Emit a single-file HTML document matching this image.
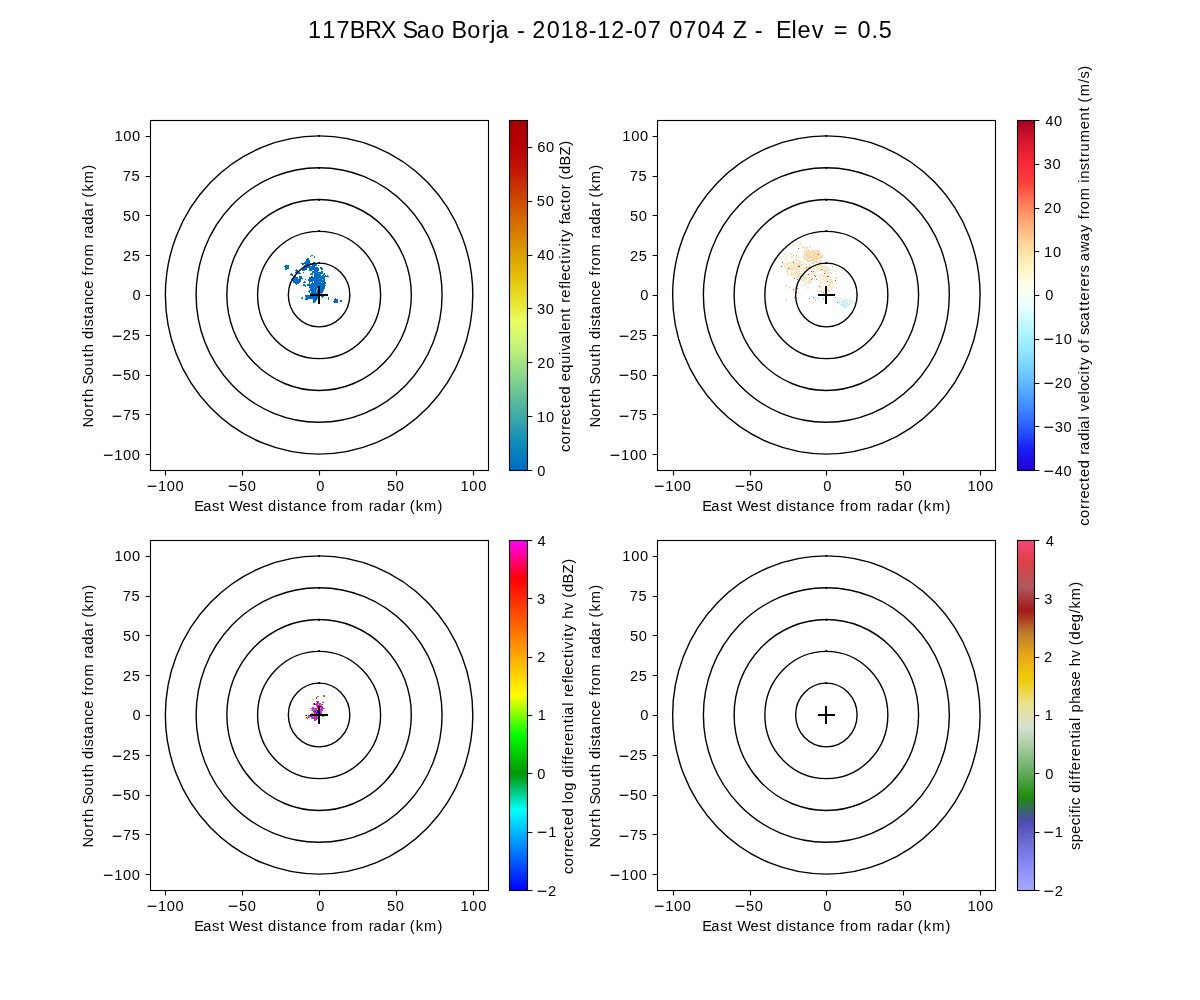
<!DOCTYPE html>
<html lang="en"><head><meta charset="utf-8"><title>117BRX Sao Borja - 2018-12-07 0704 Z - Elev = 0.5</title>
<style>html,body{margin:0;padding:0;background:#fff;width:1200px;height:1000px;overflow:hidden}svg{display:block}text{font-family:"Liberation Sans",sans-serif;fill:#000;white-space:pre}.sp{fill:none;stroke:#000;stroke-width:1.111;stroke-linecap:square}.tk{stroke:#000;stroke-width:1.111;fill:none}.rg{fill:none;stroke:#000;stroke-width:1.389}.ch{stroke:#000;stroke-width:2.083;stroke-linecap:square;fill:none}</style></head><body>
<svg width="1200" height="1000" viewBox="0 0 1200 1000">
<rect x="0" y="0" width="1200" height="1000" fill="#fff"/>
<defs>
<linearGradient id="g0" x1="0" y1="1" x2="0" y2="0">
<stop offset="0.0000" stop-color="#006cc6"/>
<stop offset="0.0159" stop-color="#0272c3"/>
<stop offset="0.0317" stop-color="#0479c1"/>
<stop offset="0.0476" stop-color="#077fbe"/>
<stop offset="0.0635" stop-color="#0986bb"/>
<stop offset="0.0794" stop-color="#0f8cb8"/>
<stop offset="0.0952" stop-color="#1993b5"/>
<stop offset="0.1111" stop-color="#2299b1"/>
<stop offset="0.1270" stop-color="#2ca0ae"/>
<stop offset="0.1429" stop-color="#36a6aa"/>
<stop offset="0.1587" stop-color="#40aca6"/>
<stop offset="0.1746" stop-color="#4ab2a2"/>
<stop offset="0.1905" stop-color="#55b89d"/>
<stop offset="0.2063" stop-color="#5fbe99"/>
<stop offset="0.2222" stop-color="#69c495"/>
<stop offset="0.2381" stop-color="#74ca91"/>
<stop offset="0.2540" stop-color="#7fd08e"/>
<stop offset="0.2698" stop-color="#8ad68a"/>
<stop offset="0.2857" stop-color="#95dc86"/>
<stop offset="0.3016" stop-color="#a0e283"/>
<stop offset="0.3175" stop-color="#abe77f"/>
<stop offset="0.3333" stop-color="#b6ed7c"/>
<stop offset="0.3492" stop-color="#c1f279"/>
<stop offset="0.3651" stop-color="#cbf674"/>
<stop offset="0.3810" stop-color="#d3f86e"/>
<stop offset="0.3968" stop-color="#dbf969"/>
<stop offset="0.4127" stop-color="#e3fb63"/>
<stop offset="0.4286" stop-color="#ebfd5d"/>
<stop offset="0.4444" stop-color="#eaf550"/>
<stop offset="0.4603" stop-color="#e9ee42"/>
<stop offset="0.4762" stop-color="#e8e635"/>
<stop offset="0.4921" stop-color="#e7df28"/>
<stop offset="0.5079" stop-color="#e5d71d"/>
<stop offset="0.5238" stop-color="#e4cf16"/>
<stop offset="0.5397" stop-color="#e3c60f"/>
<stop offset="0.5556" stop-color="#e2be07"/>
<stop offset="0.5714" stop-color="#e1b600"/>
<stop offset="0.5873" stop-color="#e0ae00"/>
<stop offset="0.6032" stop-color="#dea500"/>
<stop offset="0.6190" stop-color="#dd9d00"/>
<stop offset="0.6349" stop-color="#dc9400"/>
<stop offset="0.6508" stop-color="#da8c00"/>
<stop offset="0.6667" stop-color="#d98300"/>
<stop offset="0.6825" stop-color="#d87a00"/>
<stop offset="0.6984" stop-color="#d67200"/>
<stop offset="0.7143" stop-color="#d56900"/>
<stop offset="0.7302" stop-color="#d36000"/>
<stop offset="0.7460" stop-color="#d15700"/>
<stop offset="0.7619" stop-color="#cf4e00"/>
<stop offset="0.7778" stop-color="#cd4500"/>
<stop offset="0.7937" stop-color="#cb3c00"/>
<stop offset="0.8095" stop-color="#c93300"/>
<stop offset="0.8254" stop-color="#c62a00"/>
<stop offset="0.8413" stop-color="#c42000"/>
<stop offset="0.8571" stop-color="#c21700"/>
<stop offset="0.8730" stop-color="#bf1200"/>
<stop offset="0.8889" stop-color="#bd0d00"/>
<stop offset="0.9048" stop-color="#ba0800"/>
<stop offset="0.9206" stop-color="#b70300"/>
<stop offset="0.9365" stop-color="#b40000"/>
<stop offset="0.9524" stop-color="#b10000"/>
<stop offset="0.9683" stop-color="#ae0000"/>
<stop offset="0.9841" stop-color="#aa0000"/>
<stop offset="1.0000" stop-color="#a70000"/>
</linearGradient>
<linearGradient id="g1" x1="0" y1="1" x2="0" y2="0">
<stop offset="0.0000" stop-color="#2400d8"/>
<stop offset="0.0588" stop-color="#181cf7"/>
<stop offset="0.1176" stop-color="#2857ff"/>
<stop offset="0.1765" stop-color="#3d87ff"/>
<stop offset="0.2353" stop-color="#56b0ff"/>
<stop offset="0.2941" stop-color="#75d3ff"/>
<stop offset="0.3529" stop-color="#99eaff"/>
<stop offset="0.4118" stop-color="#bcf9ff"/>
<stop offset="0.4706" stop-color="#eaffff"/>
<stop offset="0.5294" stop-color="#ffffea"/>
<stop offset="0.5882" stop-color="#fff1bc"/>
<stop offset="0.6471" stop-color="#ffd699"/>
<stop offset="0.7059" stop-color="#ffac75"/>
<stop offset="0.7647" stop-color="#ff7856"/>
<stop offset="0.8235" stop-color="#ff3d3d"/>
<stop offset="0.8824" stop-color="#f72735"/>
<stop offset="0.9412" stop-color="#d8152f"/>
<stop offset="1.0000" stop-color="#a50021"/>
</linearGradient>
<linearGradient id="g2" x1="0" y1="1" x2="0" y2="0">
<stop offset="0.0000" stop-color="#0000ff"/>
<stop offset="0.2300" stop-color="#00ffff"/>
<stop offset="0.3333" stop-color="#009600"/>
<stop offset="0.4444" stop-color="#00ff00"/>
<stop offset="0.5556" stop-color="#ffff00"/>
<stop offset="0.8889" stop-color="#ff0000"/>
<stop offset="1.0000" stop-color="#ff00ff"/>
</linearGradient>
<linearGradient id="g3" x1="0" y1="1" x2="0" y2="0">
<stop offset="0.0000" stop-color="#a8a8ff"/>
<stop offset="0.0667" stop-color="#8c8cfa"/>
<stop offset="0.1333" stop-color="#6e6ed7"/>
<stop offset="0.2000" stop-color="#4b4baf"/>
<stop offset="0.2667" stop-color="#1e8c0a"/>
<stop offset="0.3333" stop-color="#5faa5a"/>
<stop offset="0.4000" stop-color="#9bc896"/>
<stop offset="0.4667" stop-color="#d7e1d2"/>
<stop offset="0.5333" stop-color="#ebe18c"/>
<stop offset="0.6000" stop-color="#eecd0a"/>
<stop offset="0.6667" stop-color="#ebaa14"/>
<stop offset="0.7333" stop-color="#be7d2d"/>
<stop offset="0.8000" stop-color="#a01919"/>
<stop offset="0.8667" stop-color="#af5a5f"/>
<stop offset="0.9333" stop-color="#dc4146"/>
<stop offset="1.0000" stop-color="#fa4678"/>
</linearGradient>
</defs>
<g id="panel0">
<path fill="#006cc8" d="M311 255h2v1h-2zM310 256h1v1h-1zM314 256h1v1h-1zM314 257h1v1h-1zM307 258h2v1h-2zM306 259h3v1h-3zM306 260h4v1h-4zM305 261h5v1h-5zM304 262h6v1h-6zM313 262h2v1h-2zM301 263h10v1h-10zM313 263h2v1h-2zM302 264h2v1h-2zM305 264h12v1h-12zM304 265h6v1h-6zM312 265h5v1h-5zM318 265h1v1h-1zM285 265h4v1h-4zM303 266h12v1h-12zM284 266h5v1h-5zM303.5 267h14.5v1h-14.5zM320 267h2v1h-2zM285 267h4v1h-4zM302 268h5v1h-5zM309 268h10v1h-10zM320 268h3v1h-3zM285 268h4v1h-4zM302 269h5v1h-5zM309 269h10v1h-10zM321 269h2v1h-2zM285 269h2v1h-2zM296 269h1v1h-1zM302 270h3v1h-3zM309 270h3v1h-3zM314 270h5v1h-5zM295 270h3v1h-3zM312 271h6v1h-6zM321 271h2v1h-2zM296 271h2v1h-2zM303 272h1v1h-1zM312 272h11v1h-11zM295 272h2v1h-2zM298 272h2v1h-2zM311 273h2v1h-2zM314 273h9v1h-9zM324 273h1v1h-1zM297 273h4v1h-4zM291 273h1v1h-1zM310 274h3v1h-3zM314 274h7v1h-7zM323 274h2v1h-2zM290 274h3v1h-3zM314 275h7v1h-7zM322 275h4v1h-4zM327 275h1v1h-1zM291 275h2v1h-2zM311 276h2v1h-2zM314 276h15v1h-15zM294 276h2v1h-2zM299 276h3v1h-3zM309 277h16v1h-16zM294 277h4v1h-4zM299 277h3v1h-3zM309 278h16v1h-16zM293 278h5v1h-5zM299 278h4v1h-4zM308 279h17v1h-17zM291 279h10v1h-10zM305 279h1v1h-1zM308 280h17v1h-17zM292 280h9v1h-9zM309 281h4v1h-4zM314 281h11v1h-11zM293 281h8v1h-8zM304 281h1v1h-1zM309 282h1v1h-1zM312 282h1v1h-1zM314 282h7v1h-7zM322 282h4v1h-4zM293 282h7v1h-7zM303 282h3v1h-3zM309 283h1v1h-1zM311 283h15v1h-15zM295 283h4v1h-4zM307 284h18v1h-18zM296 284h1v1h-1zM303 284h2v1h-2zM307 285h19v1h-19zM303 285h3v1h-3zM309 286h16v1h-16zM305 286h1v1h-1zM309 287h16v1h-16zM310 288h15v1h-15zM310 289h14v1h-14zM309 290h15v1h-15zM308 291h2v1h-2zM311 291h12v1h-12zM309 292h1v1h-1zM311 292h12v1h-12zM310 293h12v1h-12zM310 294h12v1h-12zM305 295h19v1h-19zM305 296h13v1h-13zM321 296h3v1h-3zM306 297h12v1h-12zM322 297h1v1h-1zM328 297h1v1h-1zM302 297h1v1h-1zM305 298h13v1h-13zM328 298h1v1h-1zM301 298h2v1h-2zM335 298h1v1h-1zM305 299h3v1h-3zM313 299h4v1h-4zM328 299h1v1h-1zM334 299h4v1h-4zM313 300h3.5v1h-3.5zM334 300h4v1h-4zM340 300h2v1h-2zM313 301h3v1h-3zM333 301h5v1h-5zM340 301h2v1h-2zM313 302h2v1h-2zM334 302h4v1h-4z"/><path fill="#0082b8" d="M311 255h2v1h-2zM310 256h1v1h-1zM314 256h1v2h-1z"/><path fill="#0078c0" d="M285 265h4v1h-4zM284 266h5v1h-5zM285 267h4v2h-4zM285 269h2v1h-2z"/><rect x="319" y="278" width="1" height="1" fill="#1a9ab0"/><rect x="322" y="279" width="1" height="1" fill="#6cc48a"/><rect x="323" y="276" width="1" height="1" fill="#1a9ab0"/><rect x="319" y="281" width="1" height="1" fill="#2aa0a8"/><rect x="318" y="284" width="1" height="1" fill="#2aa0a8"/><rect x="314" y="287" width="1" height="1" fill="#2aa0a8"/><rect x="317" y="288" width="1" height="1" fill="#8fd07a"/><rect x="317" y="289" width="1" height="1" fill="#6cc48a"/><rect x="316" y="290" width="1" height="1" fill="#a8dc6c"/><rect x="316" y="291" width="1" height="1" fill="#6cc48a"/><rect x="320" y="293" width="1" height="1" fill="#2aa49c"/><rect x="321" y="293" width="1" height="1" fill="#2aa49c"/><rect x="316" y="272" width="1" height="1" fill="#3aa8a0"/><rect x="318" y="273" width="1" height="1" fill="#3aa8a0"/><rect x="324" y="275" width="1" height="1" fill="#9ad874"/><rect x="310" y="267" width="1" height="1" fill="#2aa0a8"/><rect x="305" y="262" width="1" height="1" fill="#1a96b0"/>
<ellipse class="rg" cx="319.09" cy="295.00" rx="30.74" ry="31.82"/>
<rect x="318.29" y="262" width="1.6" height="2" fill="#000"/>
<ellipse class="rg" cx="319.09" cy="295.00" rx="61.49" ry="63.64"/>
<rect x="318.29" y="230" width="1.6" height="2" fill="#000"/>
<ellipse class="rg" cx="319.09" cy="295.00" rx="92.23" ry="95.45"/>
<rect x="318.29" y="199" width="1.6" height="2" fill="#000"/>
<ellipse class="rg" cx="319.09" cy="295.00" rx="122.97" ry="127.27"/>
<rect x="318.29" y="167" width="1.6" height="2" fill="#000"/>
<ellipse class="rg" cx="319.09" cy="295.00" rx="153.72" ry="159.09"/>
<rect x="318.29" y="135" width="1.6" height="2" fill="#000"/>
<path fill="#000" d="M309.96 294H328.04v2H309.96zM318 285.96h2V304.04h-2z"/>
<path class="tk" d="M165.5 470.50v4.91M242.5 470.50v4.91M319.5 470.50v4.91M396.5 470.50v4.91M473.5 470.50v4.91M150.50 454.5h-4.91M150.50 414.5h-4.91M150.50 375.5h-4.91M150.50 335.5h-4.91M150.50 295.5h-4.91M150.50 255.5h-4.91M150.50 215.5h-4.91M150.50 176.5h-4.91M150.50 136.5h-4.91"/>
<rect class="sp" x="150.5" y="120.5" width="338.0" height="350.0"/>
<rect x="509.5" y="120.0" width="18.0" height="350.5" fill="url(#g0)"/>
<rect class="sp" x="509.5" y="120.5" width="18.0" height="350.0"/>
<path class="tk" d="M527.50 470.5h4.91M527.50 416.5h4.91M527.50 362.5h4.91M527.50 308.5h4.91M527.50 255.5h4.91M527.50 201.5h4.91M527.50 147.5h4.91"/>
</g>
<g id="panel1">
<g style="filter:blur(0.3px)"><path fill="#fdd6a2" d="M806 250h2v1h-2zM811 250h8v1h-8zM804 251h3v1h-3zM808 251h3v1h-3zM812 251h2v1h-2zM815 251h1v1h-1zM817 251h3v1h-3zM804 252h1v1h-1zM806 252h14v1h-14zM804 253h5v1h-5zM810 253h2v1h-2zM813 253h8v1h-8zM804 254h1v1h-1zM806 254h5v1h-5zM813 254h5v1h-5zM820 254h1v1h-1zM804 255h11v1h-11zM816 255h3v1h-3zM822 255h1v1h-1zM803 256h2v1h-2zM807 256h11v1h-11zM819 256h4v1h-4zM803 257h1v1h-1zM805 257h1v1h-1zM807 257h3v1h-3zM811 257h12v1h-12zM804 258h6v1h-6zM812 258h6v1h-6zM819 258h2v1h-2zM822 258h1v1h-1zM804 259h4v1h-4zM810 259h9v1h-9zM806 260h9v1h-9zM816 260h1v1h-1zM820 260h2v1h-2zM808 261h3v1h-3zM813 261h5v1h-5zM819 261h3v1h-3zM811 262h3v1h-3zM816 262h2v1h-2zM819 262h2v1h-2zM813 263h1v1h-1z"/><path fill="#86dcfa" d="M808 250h1v1h-1zM796 255h1v1h-1zM810 257h1v1h-1zM796 260h1v1h-1zM807 261h1v1h-1zM812 263h1v1h-1zM802 264h1v1h-1zM806 264h1v1h-1zM815 266h1v1h-1zM819 270h1v1h-1zM825 270h1v1h-1zM824 271h1v1h-1zM830 272h1v1h-1zM799 273h1v1h-1zM803 276h1v1h-1zM805 277h1v1h-1zM812 278h1v1h-1zM830 279h1v1h-1zM802 280h1v1h-1zM831 281h1v1h-1zM810 282h1v1h-1zM805 284h1v1h-1zM786 285h1v1h-1zM817 291h1v1h-1zM821 291h1v1h-1z"/><path fill="#fee2b6" d="M784 254h3v1h-3zM786 255h1v1h-1zM783 256h1v1h-1zM786 256h1v1h-1zM795 256h1v1h-1zM797 256h2v1h-2zM795 257h1v1h-1zM799 257h1v1h-1zM796 258h2v1h-2zM795 259h1v1h-1zM793 260h1v1h-1zM797 260h3v1h-3zM790 261h1v1h-1zM793 261h1v1h-1zM795 261h1v1h-1zM798 261h4v1h-4zM787 262h4v1h-4zM792 262h1v1h-1zM794 262h1v1h-1zM796 262h1v1h-1zM798 262h5v1h-5zM783 263h2v1h-2zM786 263h2v1h-2zM789 263h4v1h-4zM794 263h4v1h-4zM799 263h2v1h-2zM803 263h2v1h-2zM783 264h2v1h-2zM786 264h3v1h-3zM793 264h2v1h-2zM797 264h5v1h-5zM809 264h1v1h-1zM784 265h1v1h-1zM786 265h2v1h-2zM790 265h6v1h-6zM797 265h5v1h-5zM803 265h2v1h-2zM808 265h3v1h-3zM812 265h1v1h-1zM784 266h2v1h-2zM788 266h2v1h-2zM791 266h1v1h-1zM793 266h2v1h-2zM796 266h2v1h-2zM801 266h1v1h-1zM803 266h1v1h-1zM805 266h3v1h-3zM809 266h4v1h-4zM784 267h6v1h-6zM791 267h7v1h-7zM799 267h3v1h-3zM803 267h1v1h-1zM805 267h1v1h-1zM808 267h1v1h-1zM785 268h1v1h-1zM789 268h5v1h-5zM795 268h3v1h-3zM801 268h7v1h-7zM787 269h2v1h-2zM790 269h16v1h-16zM786 270h2v1h-2zM792 270h2v1h-2zM795 270h1v1h-1zM798 270h1v1h-1zM804 270h1v1h-1zM786 271h2v1h-2zM791 271h1v1h-1zM795 271h5v1h-5zM801 271h1v1h-1zM787 272h2v1h-2zM791 272h2v1h-2zM794 272h1v1h-1zM796 272h3v1h-3zM800 272h1v1h-1zM786 273h3v1h-3zM791 273h1v1h-1zM793 273h3v1h-3zM797 273h2v1h-2zM800 273h2v1h-2zM789 274h5v1h-5zM795 274h1v1h-1zM798 274h2v1h-2zM787 275h2v1h-2zM791 275h1v1h-1zM793 275h4v1h-4zM798 275h1v1h-1zM800 275h1v1h-1zM795 276h1v1h-1zM797 276h3v1h-3zM795 277h4v1h-4z"/><path fill="#ff2a1e" d="M798 248h1v1h-1zM818 254h1v1h-1zM782 262h1v1h-1zM793 262h1v1h-1zM781 266h1v1h-1zM798 266h2v1h-2zM806 267h1v1h-1zM809 267h1v1h-1zM788 268h1v1h-1zM821 269h1v1h-1zM811 271h1v1h-1zM813 271h1v1h-1zM824 273h1v1h-1zM808 274h1v1h-1zM814 275h1v1h-1zM815 276h1v1h-1zM827 276h2v1h-2zM794 278h1v1h-1zM797 279h1v1h-1zM811 279h1v1h-1zM835 280h1v1h-1zM827 281h1v1h-1zM819 286h1v1h-1zM797 288h1v1h-1zM793 289h1v1h-1z"/><path fill="#fee8c2" d="M811 267h1v1h-1zM813 267h1v1h-1zM809 268h3v1h-3zM814 268h1v1h-1zM808 269h2v1h-2zM814 269h1v1h-1zM811 270h1v1h-1zM815 270h3v1h-3zM809 271h1v1h-1zM815 271h3v1h-3zM805 272h2v1h-2zM810 272h1v1h-1zM813 272h3v1h-3zM805 273h1v1h-1zM808 273h1v1h-1zM814 273h1v1h-1zM805 274h3v1h-3zM809 274h1v1h-1zM811 274h1v1h-1zM813 274h1v1h-1zM815 274h3v1h-3zM801 275h5v1h-5zM807 275h1v1h-1zM809 275h3v1h-3zM815 275h1v1h-1zM819 275h1v1h-1zM800 276h3v1h-3zM809 276h1v1h-1zM811 276h1v1h-1zM813 276h2v1h-2zM817 276h1v1h-1zM819 276h1v1h-1zM800 277h1v1h-1zM803 277h2v1h-2zM806 277h4v1h-4zM812 277h1v1h-1zM800 278h6v1h-6zM807 278h2v1h-2zM811 278h1v1h-1zM814 278h1v1h-1zM816 278h3v1h-3zM800 279h7v1h-7zM809 279h2v1h-2zM812 279h1v1h-1zM800 280h2v1h-2zM804 280h2v1h-2zM808 280h5v1h-5zM818 280h1v1h-1zM804 281h2v1h-2zM808 281h4v1h-4zM806 282h4v1h-4zM807 283h3v1h-3zM808 284h1v1h-1z"/><path fill="#fedfb2" d="M818 265h5v1h-5zM817 266h9v1h-9zM816 267h1v1h-1zM818 267h1v1h-1zM820 267h3v1h-3zM825 267h3v1h-3zM818 268h2v1h-2zM822 268h4v1h-4zM827 268h1v1h-1zM817 269h2v1h-2zM820 269h1v1h-1zM822 269h2v1h-2zM825 269h1v1h-1zM827 269h3v1h-3zM822 270h3v1h-3zM826 270h4v1h-4zM826 271h2v1h-2zM823 272h1v1h-1zM825 272h4v1h-4zM827 273h1v1h-1z"/><path fill="#fee9c6" d="M820 274h2v1h-2zM823 274h1v1h-1zM825 274h2v1h-2zM821 275h4v1h-4zM826 275h2v1h-2zM829 275h1v1h-1zM820 276h1v1h-1zM823 276h3v1h-3zM830 276h1v1h-1zM820 277h1v1h-1zM822 277h2v1h-2zM825 277h3v1h-3zM830 277h1v1h-1zM832 277h1v1h-1zM820 278h2v1h-2zM824 278h4v1h-4zM829 278h1v1h-1zM821 279h4v1h-4zM826 279h2v1h-2zM829 279h1v1h-1zM831 279h2v1h-2zM820 280h1v1h-1zM824 280h4v1h-4zM829 280h4v1h-4zM825 281h1v1h-1zM828 281h2v1h-2zM832 281h1v1h-1zM822 282h2v1h-2zM825 282h3v1h-3zM829 282h2v1h-2zM832 282h1v1h-1zM824 283h2v1h-2zM829 283h4v1h-4zM824 284h1v1h-1zM826 284h1v1h-1zM828 284h1v1h-1zM832 284h2v1h-2zM825 285h8v1h-8zM826 286h3v1h-3zM830 286h3v1h-3zM828 287h5v1h-5zM827 288h3v1h-3zM831 288h2v1h-2zM828 289h1v1h-1zM830 289h2v1h-2zM829 290h2v1h-2z"/><path fill="#ff8a50" d="M832 266h1v1h-1zM829 284h1v1h-1zM828 290h1v1h-1zM823 292h1v1h-1zM835 297h1v1h-1zM823 298h1v1h-1zM815 300h1v1h-1z"/><path fill="#fff3dc" d="M819 282h2v1h-2zM820 283h2v1h-2zM819 284h1v1h-1zM821 284h1v1h-1zM823 284h1v1h-1zM818 285h2v1h-2zM823 285h1v1h-1zM818 286h1v1h-1zM820 286h2v1h-2zM824 286h2v1h-2zM820 287h2v1h-2zM824 287h2v1h-2zM818 288h1v1h-1zM822 288h1v1h-1zM824 288h2v1h-2zM818 289h3v1h-3zM822 289h3v1h-3zM827 289h1v1h-1zM819 290h1v1h-1zM821 290h1v1h-1zM825 290h2v1h-2zM818 291h3v1h-3zM822 291h2v1h-2zM826 291h3v1h-3zM819 292h4v1h-4zM825 292h1v1h-1z"/><path fill="#c2f0fa" d="M837 297h1v1h-1zM839 298h3v1h-3zM837 299h1v1h-1zM839 299h1v1h-1zM844 299h1v1h-1zM846 299h1v1h-1zM839 300h1v1h-1zM842 300h2v1h-2zM845 300h1v1h-1zM847 300h1v1h-1zM849 300h2v1h-2zM838 301h7v1h-7zM846 301h1v1h-1zM848 301h1v1h-1zM850 301h3v1h-3zM839 302h1v1h-1zM841 302h2v1h-2zM844 302h1v1h-1zM846 302h2v1h-2zM849 302h1v1h-1zM851 302h1v1h-1zM839 303h1v1h-1zM841 303h2v1h-2zM844 303h1v1h-1zM846 303h2v1h-2zM849 303h3v1h-3zM840 304h6v1h-6zM847 304h3v1h-3zM841 305h8v1h-8zM842 306h4v1h-4zM847 306h1v1h-1zM844 307h3v1h-3z"/><path fill="#e2f7fb" d="M817 295h1v1h-1zM811 296h2v1h-2zM815 296h1v1h-1zM817 296h1v1h-1zM811 297h1v1h-1zM815 297h3v1h-3zM819 297h1v1h-1zM822 297h1v1h-1zM812 298h1v1h-1zM817 298h4v1h-4zM813 299h1v1h-1zM818 299h1v1h-1zM820 299h4v1h-4zM818 300h2v1h-2zM819 301h1v1h-1zM821 301h1v1h-1zM821 302h1v1h-1z"/><path fill="#3c86f5" d="M816 279h1v1h-1zM794 297h1v1h-1zM813 297h1v1h-1zM809 298h1v1h-1zM837 302h1v1h-1z"/><path fill="#fee0b2" d="M800 243h2v1h-2zM800 244h2v1h-2zM793 245h2v1h-2zM802 246h2v1h-2zM809 246h2v1h-2zM802 247h6v1h-6zM809 247h2v1h-2zM804 248h4v1h-4zM790 253h2v1h-2zM790 254h2v1h-2zM793 255h2v1h-2zM819 255h3v1h-3zM791 256h2v1h-2zM791 257h2v1h-2zM779 258h2v1h-2zM785 259h2v1h-2zM835 270h1v1h-1zM835 271h1v1h-1zM836 273h1v1h-1zM836 274h1v1h-1zM835 277h3v1h-3zM835 278h3v1h-3zM785 286h2v1h-2zM789 286h2v1h-2zM789 287h2v1h-2zM807 287h2v1h-2zM807 288h2v1h-2zM793 290h1v1h-1zM786 291h2v1h-2zM793 291h1v1h-1zM790 296h1v1h-1zM785 299h2v1h-2zM785 300h2v1h-2z"/><path fill="#1420c0" d="M796 292h1v1h-1z"/></g>
<ellipse class="rg" cx="826.36" cy="295.00" rx="30.74" ry="31.82"/>
<rect x="825.56" y="262" width="1.6" height="2" fill="#000"/>
<ellipse class="rg" cx="826.36" cy="295.00" rx="61.49" ry="63.64"/>
<rect x="825.56" y="230" width="1.6" height="2" fill="#000"/>
<ellipse class="rg" cx="826.36" cy="295.00" rx="92.23" ry="95.45"/>
<rect x="825.56" y="199" width="1.6" height="2" fill="#000"/>
<ellipse class="rg" cx="826.36" cy="295.00" rx="122.97" ry="127.27"/>
<rect x="825.56" y="167" width="1.6" height="2" fill="#000"/>
<ellipse class="rg" cx="826.36" cy="295.00" rx="153.72" ry="159.09"/>
<rect x="825.56" y="135" width="1.6" height="2" fill="#000"/>
<path fill="#000" d="M817.96 294H835.04v2H817.96zM825 285.96h2V304.04h-2z"/>
<path class="tk" d="M673.5 470.50v4.91M750.5 470.50v4.91M826.5 470.50v4.91M903.5 470.50v4.91M980.5 470.50v4.91M657.50 454.5h-4.91M657.50 414.5h-4.91M657.50 375.5h-4.91M657.50 335.5h-4.91M657.50 295.5h-4.91M657.50 255.5h-4.91M657.50 215.5h-4.91M657.50 176.5h-4.91M657.50 136.5h-4.91"/>
<rect class="sp" x="657.5" y="120.5" width="338.0" height="350.0"/>
<rect x="1017.5" y="120.0" width="17.0" height="350.5" fill="url(#g1)"/>
<rect class="sp" x="1017.5" y="120.5" width="17.0" height="350.0"/>
<path class="tk" d="M1034.50 470.5h4.91M1034.50 426.5h4.91M1034.50 383.5h4.91M1034.50 339.5h4.91M1034.50 295.5h4.91M1034.50 251.5h4.91M1034.50 208.5h4.91M1034.50 164.5h4.91M1034.50 120.5h4.91"/>
</g>
<g id="panel2">
<path fill="#ff00ff" d="M323 695h1v1h-1zM317 701h1v1h-1zM318 701h1v1h-1zM317 702h1v1h-1zM322 702h1v1h-1zM323 702h1v1h-1zM316 703h1v1h-1zM317 703h1v1h-1zM319 703h1v1h-1zM320 703h1v1h-1zM315 704h1v1h-1zM316 704h1v1h-1zM317 704h1v1h-1zM319 704h1v1h-1zM316 705h1v1h-1zM317 705h1v1h-1zM318 705h1v1h-1zM319 705h1v1h-1zM320 705h1v1h-1zM321 706h1v1h-1zM322 706h1v1h-1zM312 707h1v1h-1zM313 707h1v1h-1zM320 707h1v1h-1zM321 707h1v1h-1zM322 707h1v1h-1zM311 708h1v1h-1zM312 708h1v1h-1zM313 708h1v1h-1zM314 708h1v1h-1zM315 708h1v1h-1zM316 708h1v1h-1zM321 708h1v1h-1zM322 708h1v1h-1zM312 709h1v1h-1zM315 709h1v1h-1zM320 709h1v1h-1zM321 709h1v1h-1zM322 709h1v1h-1zM315 710h1v1h-1zM321 710h1v1h-1zM322 710h1v1h-1zM314 711h1v1h-1zM316 711h1v1h-1zM320 711h1v1h-1zM321 711h1v1h-1zM315 712h1v1h-1zM320 712h1v1h-1zM314 713h1v1h-1zM315 713h1v1h-1zM317 713h1v1h-1zM320 713h1v1h-1zM321 713h1v1h-1zM314 714h1v1h-1zM315 714h1v1h-1zM316 714h1v1h-1zM317 714h1v1h-1zM309 715h1v1h-1zM310 715h1v1h-1zM308 716h1v1h-1zM309 716h1v1h-1zM310 716h1v1h-1zM311 716h1v1h-1zM313 716h1v1h-1zM315 716h1v1h-1zM308 717h1v1h-1zM312 717h1v1h-1zM313 717h1v1h-1zM314 717h1v1h-1zM315 717h1v1h-1zM316 717h1v1h-1zM317 717h1v1h-1zM314 718h1v1h-1zM315 718h1v1h-1zM314 719h1v1h-1zM315 719h1v1h-1zM314 720h1v1h-1zM315 720h1v1h-1z"/><path fill="#ff7a00" d="M324 695h1v1h-1zM313 704h1v1h-1zM320 704h1v1h-1zM321 704h1v1h-1zM317 708h1v1h-1zM311 710h1v1h-1zM311 713h1v1h-1zM312 713h1v1h-1zM307 717h1v1h-1z"/><path fill="#00e000" d="M323 696h1v1h-1zM318 703h1v1h-1zM323 708h1v1h-1zM313 709h1v1h-1zM314 709h1v1h-1zM313 710h1v1h-1zM314 710h1v1h-1zM313 712h1v1h-1zM321 712h1v1h-1zM305 715h1v1h-1zM308 715h1v1h-1zM314 716h1v1h-1zM322 716h1v1h-1zM323 716h1v1h-1zM311 717h1v1h-1zM311 718h1v1h-1zM313 718h1v1h-1zM317 718h1v1h-1z"/><path fill="#ff1a00" d="M324 696h1v1h-1zM316 697h1v1h-1zM316 698h1v1h-1zM322 704h1v1h-1zM317 706h1v1h-1zM317 707h1v1h-1zM316 709h1v1h-1zM312 710h1v1h-1zM316 710h1v1h-1zM314 712h1v1h-1zM316 716h1v1h-1zM306 717h1v1h-1zM307 718h1v1h-1zM312 718h1v1h-1zM316 718h1v1h-1zM316 719h1v1h-1z"/><path fill="#00c8ff" d="M317 696h1v1h-1zM318 696h1v1h-1zM313 703h1v1h-1zM321 705h1v1h-1zM324 708h1v1h-1zM320 710h1v1h-1zM312 716h1v1h-1zM317 716h1v1h-1zM309 717h1v1h-1z"/><path fill="#ffe600" d="M312 698h1v1h-1zM323 701h1v1h-1zM315 703h1v1h-1zM318 704h1v1h-1zM320 708h1v1h-1zM307 716h1v1h-1zM310 717h1v1h-1z"/><path fill="#80ff00" d="M313 699h1v1h-1zM306 718h1v1h-1z"/><path fill="#009a00" d="M316 701h1v1h-1zM318 702h1v1h-1z"/><path fill="#0000ff" d="M314 703h1v1h-1zM314 704h1v1h-1zM320 706h1v1h-1zM317 710h1v1h-1zM313 711h1v1h-1zM315 711h1v1h-1zM317 711h1v1h-1zM316 712h1v1h-1zM317 712h1v1h-1zM316 713h1v1h-1zM306 715h1v1h-1z"/>
<ellipse class="rg" cx="319.09" cy="715.00" rx="30.74" ry="31.82"/>
<rect x="318.29" y="682" width="1.6" height="2" fill="#000"/>
<ellipse class="rg" cx="319.09" cy="715.00" rx="61.49" ry="63.64"/>
<rect x="318.29" y="650" width="1.6" height="2" fill="#000"/>
<ellipse class="rg" cx="319.09" cy="715.00" rx="92.23" ry="95.45"/>
<rect x="318.29" y="619" width="1.6" height="2" fill="#000"/>
<ellipse class="rg" cx="319.09" cy="715.00" rx="122.97" ry="127.27"/>
<rect x="318.29" y="587" width="1.6" height="2" fill="#000"/>
<ellipse class="rg" cx="319.09" cy="715.00" rx="153.72" ry="159.09"/>
<rect x="318.29" y="555" width="1.6" height="2" fill="#000"/>
<path fill="#000" d="M309.96 714H328.04v2H309.96zM318 705.96h2V724.04h-2z"/>
<path class="tk" d="M165.5 890.50v4.91M242.5 890.50v4.91M319.5 890.50v4.91M396.5 890.50v4.91M473.5 890.50v4.91M150.50 874.5h-4.91M150.50 834.5h-4.91M150.50 795.5h-4.91M150.50 755.5h-4.91M150.50 715.5h-4.91M150.50 675.5h-4.91M150.50 635.5h-4.91M150.50 596.5h-4.91M150.50 556.5h-4.91"/>
<rect class="sp" x="150.5" y="540.5" width="338.0" height="350.0"/>
<rect x="509.5" y="540.0" width="18.0" height="350.5" fill="url(#g2)"/>
<rect class="sp" x="509.5" y="540.5" width="18.0" height="350.0"/>
<path class="tk" d="M527.50 890.5h4.91M527.50 832.5h4.91M527.50 773.5h4.91M527.50 715.5h4.91M527.50 657.5h4.91M527.50 598.5h4.91M527.50 540.5h4.91"/>
</g>
<g id="panel3">
<ellipse class="rg" cx="826.36" cy="715.00" rx="30.74" ry="31.82"/>
<rect x="825.56" y="682" width="1.6" height="2" fill="#000"/>
<ellipse class="rg" cx="826.36" cy="715.00" rx="61.49" ry="63.64"/>
<rect x="825.56" y="650" width="1.6" height="2" fill="#000"/>
<ellipse class="rg" cx="826.36" cy="715.00" rx="92.23" ry="95.45"/>
<rect x="825.56" y="619" width="1.6" height="2" fill="#000"/>
<ellipse class="rg" cx="826.36" cy="715.00" rx="122.97" ry="127.27"/>
<rect x="825.56" y="587" width="1.6" height="2" fill="#000"/>
<ellipse class="rg" cx="826.36" cy="715.00" rx="153.72" ry="159.09"/>
<rect x="825.56" y="555" width="1.6" height="2" fill="#000"/>
<path fill="#000" d="M817.96 714H835.04v2H817.96zM825 705.96h2V724.04h-2z"/>
<path class="tk" d="M673.5 890.50v4.91M750.5 890.50v4.91M826.5 890.50v4.91M903.5 890.50v4.91M980.5 890.50v4.91M657.50 874.5h-4.91M657.50 834.5h-4.91M657.50 795.5h-4.91M657.50 755.5h-4.91M657.50 715.5h-4.91M657.50 675.5h-4.91M657.50 635.5h-4.91M657.50 596.5h-4.91M657.50 556.5h-4.91"/>
<rect class="sp" x="657.5" y="540.5" width="338.0" height="350.0"/>
<rect x="1017.5" y="540.0" width="17.0" height="350.5" fill="url(#g3)"/>
<rect class="sp" x="1017.5" y="540.5" width="17.0" height="350.0"/>
<path class="tk" d="M1034.50 890.5h4.91M1034.50 832.5h4.91M1034.50 773.5h4.91M1034.50 715.5h4.91M1034.50 657.5h4.91M1034.50 598.5h4.91M1034.50 540.5h4.91"/>
</g>
<g id="labels" style="filter:grayscale(1)">
<text y="37.8" font-size="23.44" x="307.99 322.17 336.42 349.87 365.01 380.65 396.16 402.6 416.85 431.34 444.7 451.55 467.36 481.8 490.19 495.52 509.73 516.92 524.86 532.2 546.67 560.74 575.04 588.78 597.15 611.16 625.19 633.68 647.81 661.5 669.13 683.26 697.49 711.67 725.31 732.84 747.67 754.86 762.8 769.89 776.1 791.54 797.61 811.68 824.16 833.71 849.92 857.55 871.45 878.73" xml:space="preserve">117BRX Sao Borja - 2018-12-07 0704 Z -  Elev = 0.5</text>
<text y="510.68" font-size="14.65" x="194.19 203.18 212.1 219.95 224.75 229.12 242.4 250.78 258.63 263.43 268.1 276.99 280.6 288.44 292.9 302.12 310.57 318.45 326.78 331.79 336.78 341.75 350.78 363.63 368.73 373.42 382.54 390.77 400.32 405.36 409.68 415.67 423.96 437.45" xml:space="preserve">East West distance from radar (km)</text>
<text transform="translate(92.73 427.45) rotate(-90)" font-size="14.65" x="-0.1 10.58 19.59 25.28 30.41 38.89 42.91 52.32 60.94 70.11 75.25 83.72 88.4 97.28 100.89 108.73 113.19 122.41 130.86 138.74 147.07 152.07 157.06 162.03 171.06 183.9 189 193.7 202.81 211.04 220.59 225.63 229.94 235.94 244.22 257.71">North South distance from radar (km)</text>
<text transform="translate(569.8 452.12) rotate(-90)" font-size="14.65" x="-0.01 7.83 16.86 22.33 27.35 35.68 43.99 49.03 57.62 66.2 70.86 79.44 88.33 97.17 101.17 108.62 117.8 121.59 130.29 139.41 144.22 149.33 154.34 163.27 167.89 171.68 180.01 188.33 193.44 197.45 205.55 209.76 215.01 222.81 227.82 231.79 240.66 248.97 253.96 262.98 268.03 272.35 278.14 286.58 296.55 306.45">corrected equivalent reflectivity factor (dBZ)</text>
<text y="490.8" font-size="14.65" xml:space="preserve"><tspan x="146.67" dy="1.59" font-size="17.89">−</tspan><tspan dy="-1.59" x="157.93 166.8 175.6">100</tspan></text>
<text y="490.87" font-size="14.65" xml:space="preserve"><tspan x="227.67" dy="1.59" font-size="17.89">−</tspan><tspan dy="-1.59" x="238.91 247.75">50</tspan></text>
<text y="490.81" font-size="14.65" x="316.26" xml:space="preserve">0</text>
<text y="490.78" font-size="14.65" x="386.89 395.69" xml:space="preserve">50</text>
<text y="490.63" font-size="14.65" x="460.49 469.35 478.14" xml:space="preserve">100</text>
<text y="459.67" font-size="14.65" xml:space="preserve"><tspan x="102.88" dy="1.59" font-size="17.89">−</tspan><tspan dy="-1.59" x="114.14 123.01 131.81">100</tspan></text>
<text y="419.91" font-size="14.65" xml:space="preserve"><tspan x="111.75" dy="1.59" font-size="17.89">−</tspan><tspan dy="-1.59" x="123.02 131.77">75</tspan></text>
<text y="379.85" font-size="14.65" xml:space="preserve"><tspan x="111.75" dy="1.59" font-size="17.89">−</tspan><tspan dy="-1.59" x="122.99 131.83">50</tspan></text>
<text y="340.02" font-size="14.65" xml:space="preserve"><tspan x="111.75" dy="1.59" font-size="17.89">−</tspan><tspan dy="-1.59" x="122.87 131.77">25</tspan></text>
<text y="299.89" font-size="14.65" x="132.47" xml:space="preserve">0</text>
<text y="260.85" font-size="14.65" x="122.94 131.81" xml:space="preserve">25</text>
<text y="221" font-size="14.65" x="123.07 131.87" xml:space="preserve">50</text>
<text y="181.19" font-size="14.65" x="122.79 131.51" xml:space="preserve">75</text>
<text y="141.33" font-size="14.65" x="114.47 123.33 132.12" xml:space="preserve">100</text>
<text y="475.59" font-size="14.65" x="537.18" xml:space="preserve">0</text>
<text y="422.16" font-size="14.65" x="537.11 545.99" xml:space="preserve">10</text>
<text y="367.94" font-size="14.65" x="537.3 546.23" xml:space="preserve">20</text>
<text y="313.88" font-size="14.65" x="536.9 545.63" xml:space="preserve">30</text>
<text y="259.71" font-size="14.65" x="537.18 545.93" xml:space="preserve">40</text>
<text y="206.32" font-size="14.65" x="536.83 545.63" xml:space="preserve">50</text>
<text y="151.85" font-size="14.65" x="537.18 545.99" xml:space="preserve">60</text>
<text y="510.68" font-size="14.65" x="702.36 711.35 720.27 728.12 732.92 737.29 750.57 758.95 766.8 771.6 776.27 785.16 788.77 796.61 801.07 810.29 818.74 826.62 834.95 839.96 844.95 849.92 858.95 871.8 876.9 881.59 890.71 898.94 908.49 913.53 917.85 923.84 932.13 945.62" xml:space="preserve">East West distance from radar (km)</text>
<text transform="translate(600 427.45) rotate(-90)" font-size="14.65" x="-0.1 10.58 19.59 25.28 30.41 38.89 42.91 52.32 60.94 70.11 75.25 83.72 88.4 97.28 100.89 108.73 113.19 122.41 130.86 138.74 147.07 152.07 157.06 162.03 171.06 183.9 189 193.7 202.81 211.04 220.59 225.63 229.94 235.94 244.22 257.71">North South distance from radar (km)</text>
<text transform="translate(1088.75 525.84) rotate(-90)" font-size="14.65" x="-0.01 7.82 16.83 22.29 27.3 35.62 43.92 48.95 57.52 66.09 71.19 75.88 85 93.88 97.09 106.25 109.81 114.68 122.68 131.31 135.05 143.36 151.33 155.53 160.77 168.55 173.15 182.06 186.37 190.84 198.02 205.33 214.84 220.29 225.32 234.32 239.33 248.34 253.43 260.62 264.69 273.93 284.58 293.88 301.67 306.67 311.66 316.62 325.64 338.49 343.21 347.12 355.63 363.47 368.95 374.28 383.49 396.56 405.24 414.35 419.14 423.46 429.69 442.83 447.26 455.09">corrected radial velocity of scatterers away from instrument (m/s)</text>
<text y="490.8" font-size="14.65" xml:space="preserve"><tspan x="653.94" dy="1.59" font-size="17.89">−</tspan><tspan dy="-1.59" x="665.2 674.07 682.87">100</tspan></text>
<text y="490.87" font-size="14.65" xml:space="preserve"><tspan x="734.64" dy="1.59" font-size="17.89">−</tspan><tspan dy="-1.59" x="745.88 754.72">50</tspan></text>
<text y="490.81" font-size="14.65" x="823.23" xml:space="preserve">0</text>
<text y="490.78" font-size="14.65" x="894.76 903.56" xml:space="preserve">50</text>
<text y="490.64" font-size="14.65" x="967.47 976.33 985.12" xml:space="preserve">100</text>
<text y="459.67" font-size="14.65" xml:space="preserve"><tspan x="609.85" dy="1.59" font-size="17.89">−</tspan><tspan dy="-1.59" x="621.11 629.98 638.78">100</tspan></text>
<text y="419.91" font-size="14.65" xml:space="preserve"><tspan x="618.73" dy="1.59" font-size="17.89">−</tspan><tspan dy="-1.59" x="630 638.75">75</tspan></text>
<text y="379.86" font-size="14.65" xml:space="preserve"><tspan x="618.73" dy="1.59" font-size="17.89">−</tspan><tspan dy="-1.59" x="629.97 638.81">50</tspan></text>
<text y="340.02" font-size="14.65" xml:space="preserve"><tspan x="618.73" dy="1.59" font-size="17.89">−</tspan><tspan dy="-1.59" x="629.85 638.75">25</tspan></text>
<text y="299.89" font-size="14.65" x="640.34" xml:space="preserve">0</text>
<text y="260.85" font-size="14.65" x="629.91 638.78" xml:space="preserve">25</text>
<text y="221" font-size="14.65" x="630.04 638.84" xml:space="preserve">50</text>
<text y="181.19" font-size="14.65" x="629.76 638.48" xml:space="preserve">75</text>
<text y="141.33" font-size="14.65" x="622.35 631.21 640" xml:space="preserve">100</text>
<text y="475.84" font-size="14.65" xml:space="preserve"><tspan x="1043.51" dy="1.59" font-size="17.89">−</tspan><tspan dy="-1.59" x="1054.81 1063.59">40</tspan></text>
<text y="431.9" font-size="14.65" xml:space="preserve"><tspan x="1043.51" dy="1.59" font-size="17.89">−</tspan><tspan dy="-1.59" x="1054.83 1063.59">30</tspan></text>
<text y="387.86" font-size="14.65" xml:space="preserve"><tspan x="1043.51" dy="1.59" font-size="17.89">−</tspan><tspan dy="-1.59" x="1054.63 1063.59">20</tspan></text>
<text y="343.82" font-size="14.65" xml:space="preserve"><tspan x="1043.51" dy="1.59" font-size="17.89">−</tspan><tspan dy="-1.59" x="1054.79 1063.68">10</tspan></text>
<text y="299.89" font-size="14.65" x="1045.35" xml:space="preserve">0</text>
<text y="256.56" font-size="14.65" x="1044.08 1052.96" xml:space="preserve">10</text>
<text y="213.13" font-size="14.65" x="1043.97 1052.9" xml:space="preserve">20</text>
<text y="169.17" font-size="14.65" x="1043.87 1052.6" xml:space="preserve">30</text>
<text y="125.79" font-size="14.65" x="1045.35 1054.1" xml:space="preserve">40</text>
<text y="930.68" font-size="14.65" x="194.19 203.18 212.1 219.95 224.75 229.12 242.4 250.78 258.63 263.43 268.1 276.99 280.6 288.44 292.9 302.12 310.57 318.45 326.78 331.79 336.78 341.75 350.78 363.63 368.73 373.42 382.54 390.77 400.32 405.36 409.68 415.67 423.96 437.45" xml:space="preserve">East West distance from radar (km)</text>
<text transform="translate(92.73 847.45) rotate(-90)" font-size="14.65" x="-0.1 10.58 19.59 25.28 30.41 38.89 42.91 52.32 60.94 70.11 75.25 83.72 88.4 97.28 100.89 108.73 113.19 122.41 130.86 138.74 147.07 152.07 157.06 162.03 171.06 183.9 189 193.7 202.81 211.04 220.59 225.63 229.94 235.94 244.22 257.71">North South distance from radar (km)</text>
<text transform="translate(572.7 874.12) rotate(-90)" font-size="14.65" x="-0.01 7.83 16.85 22.33 27.35 35.68 43.99 49.03 57.62 66.2 70.93 74.68 83.27 91.86 96.53 105.43 109.57 114.47 119.02 128.04 133.05 141.75 150.87 155.99 159.2 168.38 171.95 177.05 182.07 191 195.62 199.41 207.74 216.05 221.17 225.18 233.28 237.49 242.74 250.54 255.3 264.23 272.03 276.35 282.14 290.58 300.55 310.45">corrected log differential reflectivity hv (dBZ)</text>
<text y="910.8" font-size="14.65" xml:space="preserve"><tspan x="146.67" dy="1.59" font-size="17.89">−</tspan><tspan dy="-1.59" x="157.93 166.8 175.6">100</tspan></text>
<text y="910.87" font-size="14.65" xml:space="preserve"><tspan x="227.67" dy="1.59" font-size="17.89">−</tspan><tspan dy="-1.59" x="238.91 247.75">50</tspan></text>
<text y="910.81" font-size="14.65" x="316.26" xml:space="preserve">0</text>
<text y="910.78" font-size="14.65" x="386.89 395.69" xml:space="preserve">50</text>
<text y="910.63" font-size="14.65" x="460.49 469.35 478.14" xml:space="preserve">100</text>
<text y="879.67" font-size="14.65" xml:space="preserve"><tspan x="102.88" dy="1.59" font-size="17.89">−</tspan><tspan dy="-1.59" x="114.14 123.01 131.81">100</tspan></text>
<text y="839.91" font-size="14.65" xml:space="preserve"><tspan x="111.75" dy="1.59" font-size="17.89">−</tspan><tspan dy="-1.59" x="123.02 131.77">75</tspan></text>
<text y="799.85" font-size="14.65" xml:space="preserve"><tspan x="111.75" dy="1.59" font-size="17.89">−</tspan><tspan dy="-1.59" x="122.99 131.83">50</tspan></text>
<text y="760.02" font-size="14.65" xml:space="preserve"><tspan x="111.75" dy="1.59" font-size="17.89">−</tspan><tspan dy="-1.59" x="122.87 131.77">25</tspan></text>
<text y="719.89" font-size="14.65" x="132.47" xml:space="preserve">0</text>
<text y="680.85" font-size="14.65" x="122.94 131.81" xml:space="preserve">25</text>
<text y="641" font-size="14.65" x="123.07 131.87" xml:space="preserve">50</text>
<text y="601.19" font-size="14.65" x="122.79 131.51" xml:space="preserve">75</text>
<text y="561.33" font-size="14.65" x="114.47 123.33 132.12" xml:space="preserve">100</text>
<text y="895.87" font-size="14.65" xml:space="preserve"><tspan x="536.84" dy="1.59" font-size="17.89">−</tspan><tspan dy="-1.59" x="547.98">2</tspan></text>
<text y="836.79" font-size="14.65" xml:space="preserve"><tspan x="536.84" dy="1.59" font-size="17.89">−</tspan><tspan dy="-1.59" x="548.15">1</tspan></text>
<text y="778.92" font-size="14.65" x="537.18" xml:space="preserve">0</text>
<text y="719.87" font-size="14.65" x="537.71" xml:space="preserve">1</text>
<text y="662.37" font-size="14.65" x="537.3" xml:space="preserve">2</text>
<text y="603.59" font-size="14.65" x="536.9" xml:space="preserve">3</text>
<text y="545.96" font-size="14.65" x="537.48" xml:space="preserve">4</text>
<text y="930.68" font-size="14.65" x="702.36 711.35 720.27 728.12 732.92 737.29 750.57 758.95 766.8 771.6 776.27 785.16 788.77 796.61 801.07 810.29 818.74 826.62 834.95 839.96 844.95 849.92 858.95 871.8 876.9 881.59 890.71 898.94 908.49 913.53 917.85 923.84 932.13 945.62" xml:space="preserve">East West distance from radar (km)</text>
<text transform="translate(600 847.45) rotate(-90)" font-size="14.65" x="-0.1 10.58 19.59 25.28 30.41 38.89 42.91 52.32 60.94 70.11 75.25 83.72 88.4 97.28 100.89 108.73 113.19 122.41 130.86 138.74 147.07 152.07 157.06 162.03 171.06 183.9 189 193.7 202.81 211.04 220.59 225.63 229.94 235.94 244.22 257.71">North South distance from radar (km)</text>
<text transform="translate(1080.03 849.96) rotate(-90)" font-size="14.65" x="0.05 7.66 16.3 24.61 32.58 36.72 41.34 44.88 52.53 57.21 66.09 70.23 75.13 79.66 88.67 93.68 102.37 111.47 116.58 119.79 128.96 132.52 137.36 146.1 154.23 163.15 170.57 178.9 183.65 192.58 200.36 204.68 210.45 219.25 227.83 236.71 241.56 249.84 263.33">specific differential phase hv (deg/km)</text>
<text y="910.8" font-size="14.65" xml:space="preserve"><tspan x="653.94" dy="1.59" font-size="17.89">−</tspan><tspan dy="-1.59" x="665.2 674.07 682.87">100</tspan></text>
<text y="910.87" font-size="14.65" xml:space="preserve"><tspan x="734.64" dy="1.59" font-size="17.89">−</tspan><tspan dy="-1.59" x="745.88 754.72">50</tspan></text>
<text y="910.81" font-size="14.65" x="823.23" xml:space="preserve">0</text>
<text y="910.78" font-size="14.65" x="894.76 903.56" xml:space="preserve">50</text>
<text y="910.64" font-size="14.65" x="967.47 976.33 985.12" xml:space="preserve">100</text>
<text y="879.67" font-size="14.65" xml:space="preserve"><tspan x="609.85" dy="1.59" font-size="17.89">−</tspan><tspan dy="-1.59" x="621.11 629.98 638.78">100</tspan></text>
<text y="839.91" font-size="14.65" xml:space="preserve"><tspan x="618.73" dy="1.59" font-size="17.89">−</tspan><tspan dy="-1.59" x="630 638.75">75</tspan></text>
<text y="799.86" font-size="14.65" xml:space="preserve"><tspan x="618.73" dy="1.59" font-size="17.89">−</tspan><tspan dy="-1.59" x="629.97 638.81">50</tspan></text>
<text y="760.02" font-size="14.65" xml:space="preserve"><tspan x="618.73" dy="1.59" font-size="17.89">−</tspan><tspan dy="-1.59" x="629.85 638.75">25</tspan></text>
<text y="719.89" font-size="14.65" x="640.34" xml:space="preserve">0</text>
<text y="680.85" font-size="14.65" x="629.91 638.78" xml:space="preserve">25</text>
<text y="641" font-size="14.65" x="630.04 638.84" xml:space="preserve">50</text>
<text y="601.19" font-size="14.65" x="629.76 638.48" xml:space="preserve">75</text>
<text y="561.33" font-size="14.65" x="622.35 631.21 640" xml:space="preserve">100</text>
<text y="895.87" font-size="14.65" xml:space="preserve"><tspan x="1043.51" dy="1.59" font-size="17.89">−</tspan><tspan dy="-1.59" x="1054.65">2</tspan></text>
<text y="836.78" font-size="14.65" xml:space="preserve"><tspan x="1043.51" dy="1.59" font-size="17.89">−</tspan><tspan dy="-1.59" x="1054.82">1</tspan></text>
<text y="778.92" font-size="14.65" x="1045.35" xml:space="preserve">0</text>
<text y="719.88" font-size="14.65" x="1044.68" xml:space="preserve">1</text>
<text y="662.38" font-size="14.65" x="1043.97" xml:space="preserve">2</text>
<text y="603.59" font-size="14.65" x="1044.17" xml:space="preserve">3</text>
<text y="545.96" font-size="14.65" x="1045.65" xml:space="preserve">4</text>
</g>
</svg></body></html>
